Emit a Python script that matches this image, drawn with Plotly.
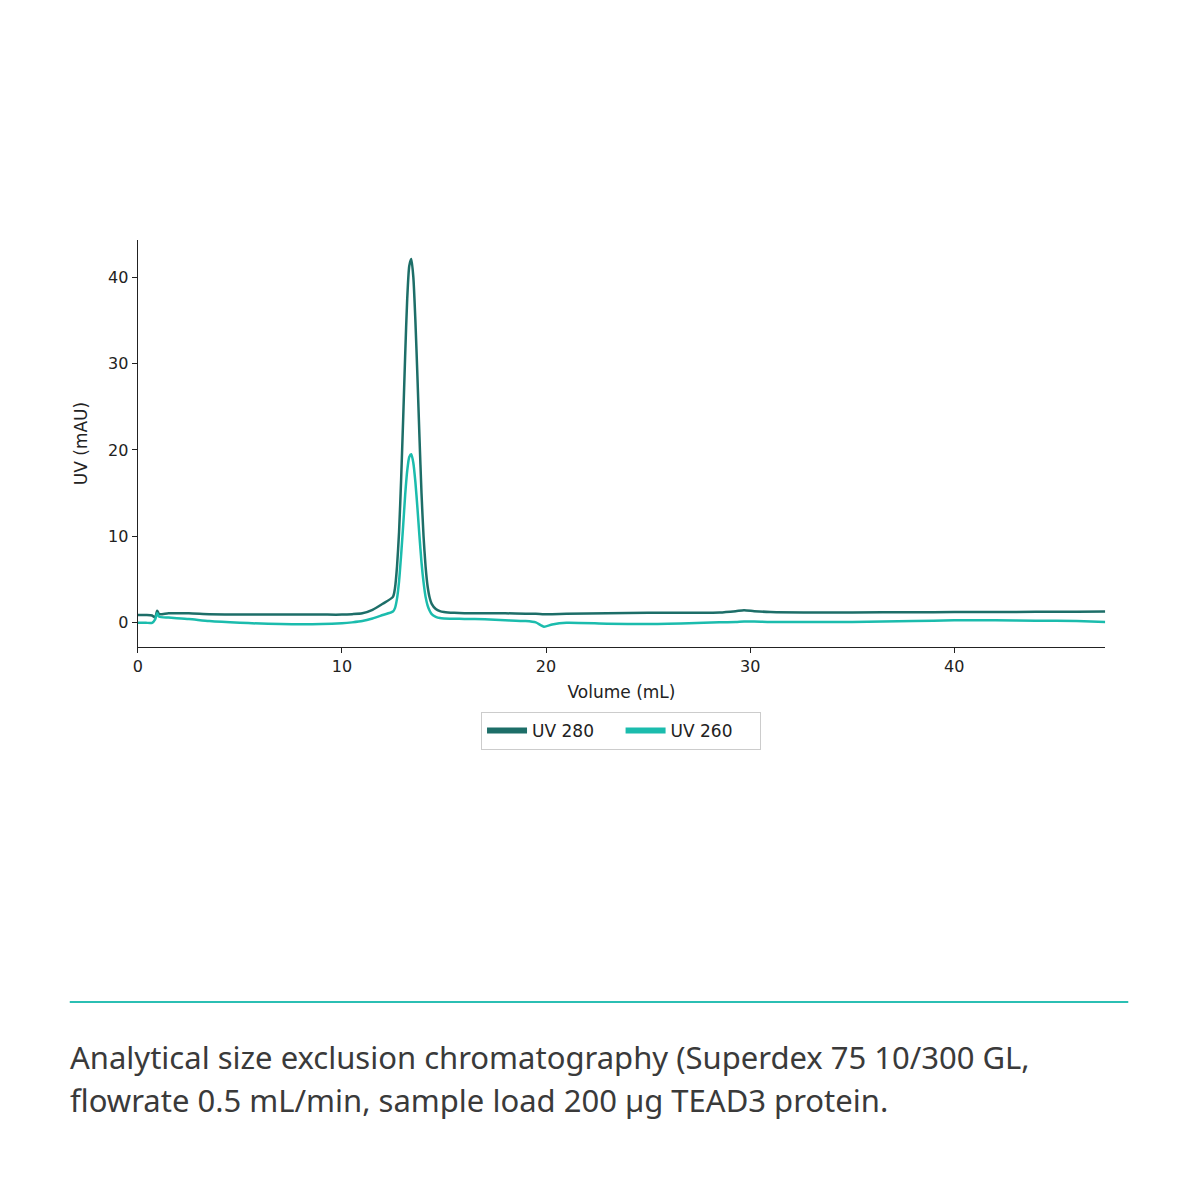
import plotly.graph_objects as go

# volume (mL) and absorbance (mAU)
volume = [0, 0.4, 0.7, 0.85, 0.95, 1.05, 1.5, 2.5, 3.5, 5, 7, 9, 10, 10.5, 11, 11.5, 12,
          12.5, 12.6, 12.7, 12.8, 12.9, 13.0, 13.1, 13.2, 13.3, 13.4, 13.5, 13.6, 13.7,
          13.8, 13.9, 14.0, 14.1, 14.2, 14.3, 14.4, 14.6, 14.8, 15.0, 15.5, 16, 17, 18,
          19, 19.5, 19.9, 20.3, 21, 23, 25, 27, 28.5, 29.3, 29.7, 30.2, 31, 33, 35, 38,
          40, 42, 44, 46, 47.4]

uv280 = [0.9, 0.9, 0.85, 0.6, 1.4, 1.0, 1.1, 1.1, 1.0, 0.95, 0.95, 0.95, 0.95, 1.0, 1.1,
         1.5, 2.2, 3.0, 4.0, 6.5, 10.5, 16.5, 23.5, 31.0, 37.5, 41.3, 42.1, 40.0, 35.0,
         28.5, 21.5, 15.0, 10.0, 6.5, 4.2, 2.9, 2.2, 1.6, 1.35, 1.25, 1.15, 1.1, 1.1,
         1.1, 1.05, 1.05, 1.0, 1.0, 1.05, 1.1, 1.15, 1.15, 1.2, 1.35, 1.45, 1.35, 1.25,
         1.2, 1.2, 1.22, 1.24, 1.25, 1.27, 1.28, 1.3]

uv260 = [0.0, 0.0, 0.0, 0.4, 1.1, 0.7, 0.6, 0.45, 0.2, 0.0, -0.15, -0.15, -0.05, 0.05,
         0.2, 0.5, 0.9, 1.3, 1.7, 2.8, 4.8, 7.8, 11.2, 14.8, 17.6, 19.2, 19.5, 18.5, 16.3,
         13.3, 10.0, 7.0, 4.7, 3.0, 2.0, 1.4, 1.0, 0.7, 0.55, 0.5, 0.47, 0.45, 0.4, 0.3,
         0.2, 0.05, -0.45, -0.2, 0.0, -0.1, -0.15, -0.05, 0.05, 0.1, 0.15, 0.15, 0.1,
         0.1, 0.1, 0.2, 0.3, 0.3, 0.25, 0.2, 0.1]

names = ["UV 280", "UV 260"]
colors = ["#1d6e68", "#1bbcad"]

caption = ["Analytical size exclusion chromatography (Superdex 75 10/300 GL,",
           "flowrate 0.5 mL/min, sample load 200 µg TEAD3 protein."]

# page has an 8px body margin, so the figure is 1184 wide inside a 1200 window
W = 1184


def px(p):
    # small correction measured from a test render
    return ((p - 5.3) / 0.9953 - 8) / W


def py(p):
    return 1 - (p - 8) / W


fig = go.Figure()

for name, ys, col in zip(names, [uv280, uv260], colors):
    fig.add_trace(go.Scatter(x=volume, y=ys, mode="lines", name=name,
                             line=dict(color=col, width=2.5, shape="spline", smoothing=0.6),
                             showlegend=False))

# thicker lines just for the legend keys
for name, col in zip(names, colors):
    fig.add_trace(go.Scatter(x=[None], y=[None], mode="lines", name=name + "    ",
                             line=dict(color=col, width=6)))

axis_style = dict(showline=True, linecolor="#222", linewidth=1.3, ticks="outside",
                  ticklen=5, tickcolor="#222", showgrid=False, zeroline=False,
                  tickfont=dict(family="DejaVu Sans", size=16, color="#222"))

fig.update_xaxes(range=[0, 47.4], dtick=10, domain=[px(138), px(1105)],
                 title=dict(text="Volume (mL)", standoff=10,
                            font=dict(family="DejaVu Sans", size=17, color="#222")),
                 **axis_style)
fig.update_yaxes(range=[-2.8, 44.3], dtick=10, domain=[py(647), py(240)],
                 title=dict(text="UV (mAU)", standoff=16,
                            font=dict(family="DejaVu Sans", size=17, color="#222")),
                 **axis_style)

fig.add_shape(type="line", xref="paper", yref="paper", x0=px(70), x1=px(1128),
              y0=py(1002), y1=py(1002),
              line=dict(color="#2bbfb3", width=2))

for i, line in enumerate(caption):
    fig.add_annotation(text=line, xref="paper", yref="paper", x=px(68),
                       y=py(1057 + 43 * i), xanchor="left", yanchor="middle",
                       showarrow=False,
                       font=dict(family="Noto Sans", size=31, color="#3a3a3a"))

fig.update_layout(
    width=W, height=W, margin=dict(l=0, r=0, t=0, b=0),
    paper_bgcolor="white", plot_bgcolor="white",
    legend=dict(orientation="h", x=px(621), y=py(731), xanchor="center",
                yanchor="middle", bordercolor="#cccccc", borderwidth=1,
                font=dict(family="DejaVu Sans", size=17, color="#222"),
                itemwidth=40),
)

fig.write_html("out.html")
